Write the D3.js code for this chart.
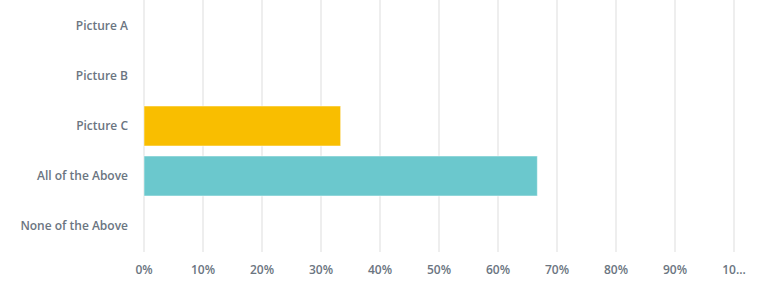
<!DOCTYPE html>
<html>
<head>
<meta charset="utf-8">
<script src="https://cdn.jsdelivr.net/npm/d3@7"></script>
<style>
  body { margin: 0; background: #fff; }
  text { font-family: "Open Sans", sans-serif; font-weight: 600; fill: #6b7581; }
</style>
</head>
<body>
<div id="chart"></div>
<script>
const categories = ["Picture A", "Picture B", "Picture C", "All of the Above", "None of the Above"];
const values = [0, 0, 33.33, 66.67, 0];
const barColors = [null, null, "#f9be00", "#6bc8cd", null];
const tickValues = [0, 10, 20, 30, 40, 50, 60, 70, 80, 90, 100];
const tickLabels = ["0%", "10%", "20%", "30%", "40%", "50%", "60%", "70%", "80%", "90%", "10..."];

const width = 768, height = 302;
const margin = {top: 1, right: 34, bottom: 51, left: 144};

const svg = d3.select("#chart").append("svg")
    .attr("width", width)
    .attr("height", height);

const x = d3.scaleLinear()
    .domain([0, 100])
    .range([margin.left, width - margin.right]);

const y = d3.scaleBand()
    .domain(categories)
    .range([margin.top, height - margin.bottom])
    .paddingInner(0.2)
    .paddingOuter(0.1);

// grid lines
svg.append("g")
    .selectAll("line")
    .data(tickValues)
    .enter().append("line")
    .attr("x1", d => x(d))
    .attr("x2", d => x(d))
    .attr("y1", 0)
    .attr("y2", 252)
    .attr("stroke", "#e9e9e9")
    .attr("stroke-width", 1.5);

// bars
svg.selectAll(".bar")
    .data(categories.map((c, i) => ({cat: c, val: values[i], color: barColors[i]})).filter(d => d.val > 0))
    .enter().append("rect")
    .attr("class", "bar")
    .attr("x", x(0))
    .attr("y", d => y(d.cat))
    .attr("width", d => x(d.val) - x(0))
    .attr("height", y.bandwidth())
    .attr("fill", d => d.color)
    .attr("stroke", "#ffffff")
    .attr("stroke-opacity", 0.5)
    .attr("stroke-width", 1);

// category labels
svg.append("g")
    .selectAll("text")
    .data(categories)
    .enter().append("text")
    .attr("x", 128)
    .attr("y", d => y(d) + y.bandwidth() / 2)
    .attr("dy", "0.35em")
    .attr("text-anchor", "end")
    .attr("font-size", "12px")
    .text(d => d);

// x tick labels
svg.append("g")
    .selectAll("text")
    .data(tickValues)
    .enter().append("text")
    .attr("x", d => x(d))
    .attr("y", 270)
    .attr("dy", "0.35em")
    .attr("text-anchor", "middle")
    .attr("font-size", "12px")
    .text((d, i) => tickLabels[i]);
</script>
</body>
</html>
